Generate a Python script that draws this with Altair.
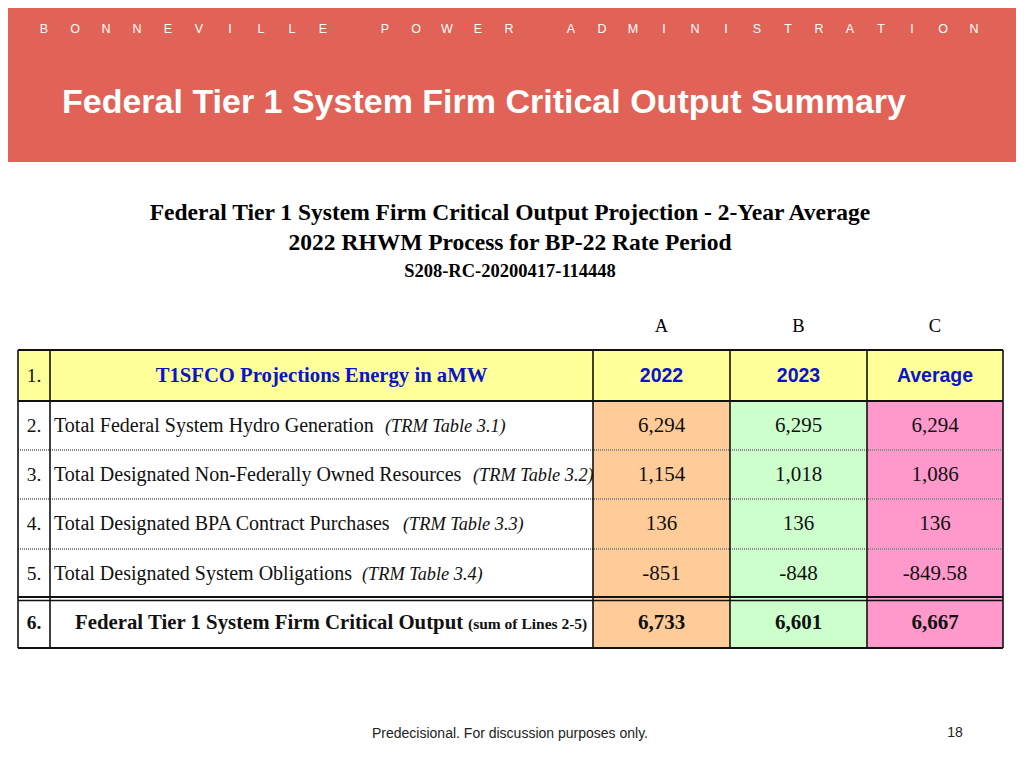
import altair as alt
import pandas as pd

# ---------------- data ----------------
agency = "BONNEVILLE POWER ADMINISTRATION"
slide_title = "Federal Tier 1 System Firm Critical Output Summary"
subtitles = ["Federal Tier 1 System Firm Critical Output Projection - 2-Year Average",
             "2022 RHWM Process for BP-22 Rate Period"]
run_id = "S208-RC-20200417-114448"
col_letters = ["A", "B", "C"]
col_headers = ["2022", "2023", "Average"]
header_label = "T1SFCO Projections Energy in aMW"
row_nums = ["1.", "2.", "3.", "4.", "5.", "6."]
row_labels = ["Total Federal System Hydro Generation",
              "Total Designated Non-Federally Owned Resources",
              "Total Designated BPA Contract Purchases",
              "Total Designated System Obligations"]
row_refs = ["(TRM Table 3.1)", "(TRM Table 3.2)", "(TRM Table 3.3)", "(TRM Table 3.4)"]
total_label = "Federal Tier 1 System Firm Critical Output"
total_ref = "(sum of Lines 2-5)"
vals_2022 = [6294, 1154, 136, -851, 6733]
vals_2023 = [6295, 1018, 136, -848, 6601]
vals_avg = [6294, 1086, 136, -849.58, 6667]
footer = "Predecisional. For discussion purposes only."
page_no = "18"

# ---------------- layout ----------------
RED = "#E16357"
YELLOW = "#FFFF99"
COL_FILLS = ["#FFCC99", "#CCFFCC", "#FF99CC"]
BLUE = "#0A14C8"
SERIF = "Liberation Serif"
SANS = "Liberation Sans"
col_edges = [18, 50, 593, 730, 867, 1003]
row_edges = [350, 401, 450, 499, 549, 598, 648]
ref_x = [385, 473, 403, 362]

xs = alt.Scale(domain=[8, 1016], nice=False, zero=False)
ys = alt.Scale(domain=[8, 760], nice=False, zero=False, reverse=True)


def X(f):
    return alt.X(f"{f}:Q", scale=xs, axis=None)


def Y(f):
    return alt.Y(f"{f}:Q", scale=ys, axis=None)


def fmt(v):
    return f"{v:,.2f}" if v != int(v) else f"{int(v):,}"


def text_layer(rows, font, size, color, weight="normal", style="normal", align="center", baseline="middle"):
    df = pd.DataFrame(rows, columns=["x", "y", "t"])
    return alt.Chart(df).mark_text(font=font, fontSize=size, color=color, fontWeight=weight,
                                   fontStyle=style, align=align, baseline=baseline).encode(
        x=X("x"), y=Y("y"), text="t:N")


def rect_layer(rows):
    df = pd.DataFrame(rows, columns=["x", "x2", "y", "y2", "fill"])
    return alt.Chart(df).mark_rect().encode(
        x=X("x"), x2="x2:Q", y=Y("y"), y2="y2:Q", color=alt.Color("fill:N", scale=None))


def rule_layer(rows, color, width, dash=None):
    df = pd.DataFrame(rows, columns=["x", "x2", "y", "y2"])
    kw = dict(color=color, strokeWidth=width)
    if dash:
        kw["strokeDash"] = dash
    return alt.Chart(df).mark_rule(**kw).encode(x=X("x"), x2="x2:Q", y=Y("y"), y2="y2:Q")


layers = []

# header band
layers.append(rect_layer([(8, 1016, 8, 162, RED)]))
letters = [(44 + i * 31, 29, ch) for i, ch in enumerate(agency) if ch != " "]
layers.append(text_layer(letters, SANS, 12.5, "white"))
layers.append(text_layer([(62, 103, slide_title)], SANS, 34, "white", weight="bold", align="left"))

# subtitles
layers.append(text_layer([(510, 213, subtitles[0]), (510, 243, subtitles[1])], SERIF, 23.5, "black", weight="bold"))
layers.append(text_layer([(510, 271, run_id)], SERIF, 18.5, "black", weight="bold"))

# column letters
cx = [(col_edges[i + 2] + col_edges[i + 3]) / 2 for i in range(3)]
layers.append(text_layer([(cx[i], 326, c) for i, c in enumerate(col_letters)], SERIF, 18.5, "black"))

# cell fills
fills = [(col_edges[0], col_edges[-1], row_edges[0], row_edges[1], YELLOW),
         (col_edges[0], col_edges[2], row_edges[1], row_edges[-1], "white")]
for i in range(3):
    fills.append((col_edges[i + 2], col_edges[i + 3], row_edges[1], row_edges[-1], COL_FILLS[i]))

row_y = [(row_edges[i] + row_edges[i + 1]) / 2 for i in range(6)]

# label texts (drawn before value fills so overflow is hidden)
layers.append(rect_layer(fills[:2]))
layers.append(text_layer([(54, row_y[i + 1], t) for i, t in enumerate(row_labels)], SERIF, 20, "#111", align="left"))
layers.append(text_layer([(ref_x[i], row_y[i + 1] + 1, t) for i, t in enumerate(row_refs)], SERIF, 18.3, "#111",
                         style="italic", align="left"))
layers.append(rect_layer(fills[2:]))

# row numbers
layers.append(text_layer([(34, row_y[i], row_nums[i]) for i in range(5)], SERIF, 19.5, "#111"))
layers.append(text_layer([(34, row_y[5], row_nums[5])], SERIF, 19.5, "#111", weight="bold"))

# header texts
layers.append(text_layer([((col_edges[1] + col_edges[2]) / 2, row_y[0], header_label)], SERIF, 20.7, BLUE, weight="bold"))
layers.append(text_layer([(cx[i], row_y[0], h) for i, h in enumerate(col_headers)], SANS, 19.5, BLUE, weight="bold"))

# total row label
layers.append(text_layer([(75, row_y[5], total_label)], SERIF, 20.8, "#111", weight="bold", align="left"))
layers.append(text_layer([(468, row_y[5] + 1, total_ref)], SERIF, 15.5, "#111", weight="bold", align="left"))

# values
series = [vals_2022, vals_2023, vals_avg]
normal_vals, bold_vals = [], []
for ci, vals in enumerate(series):
    for ri, v in enumerate(vals):
        rec = (cx[ci], row_y[ri + 1], fmt(v))
        (bold_vals if ri == 4 else normal_vals).append(rec)
layers.append(text_layer(normal_vals, SERIF, 21, "#111"))
layers.append(text_layer(bold_vals, SERIF, 21, "#111", weight="bold"))

# grid lines
dotted = [(col_edges[0], col_edges[-1], y, y) for y in row_edges[2:5]]
layers.append(rule_layer(dotted, "#8a8a8a", 2, [1, 1]))
verts = [(x, x, row_edges[0], row_edges[-1]) for x in col_edges]
layers.append(rule_layer(verts, "#111", 1.6))
horiz_thick = [(col_edges[0], col_edges[-1], y, y) for y in [row_edges[0], row_edges[1], row_edges[-1], 597]]
layers.append(rule_layer(horiz_thick, "#111", 2))
layers.append(rule_layer([(col_edges[0], col_edges[-1], 600.5, 600.5)], "#111", 1.3))

# footer
layers.append(text_layer([(510, 734, footer)], SANS, 14, "#222"))
layers.append(text_layer([(955, 733, page_no)], SANS, 14, "#222"))

chart = alt.layer(*layers).properties(
    width=1008, height=752, padding=0,
    autosize=alt.AutoSizeParams(type="none"),
).configure_view(strokeWidth=0)

chart.save("out.html", embed_options={"renderer": "svg", "actions": False})
